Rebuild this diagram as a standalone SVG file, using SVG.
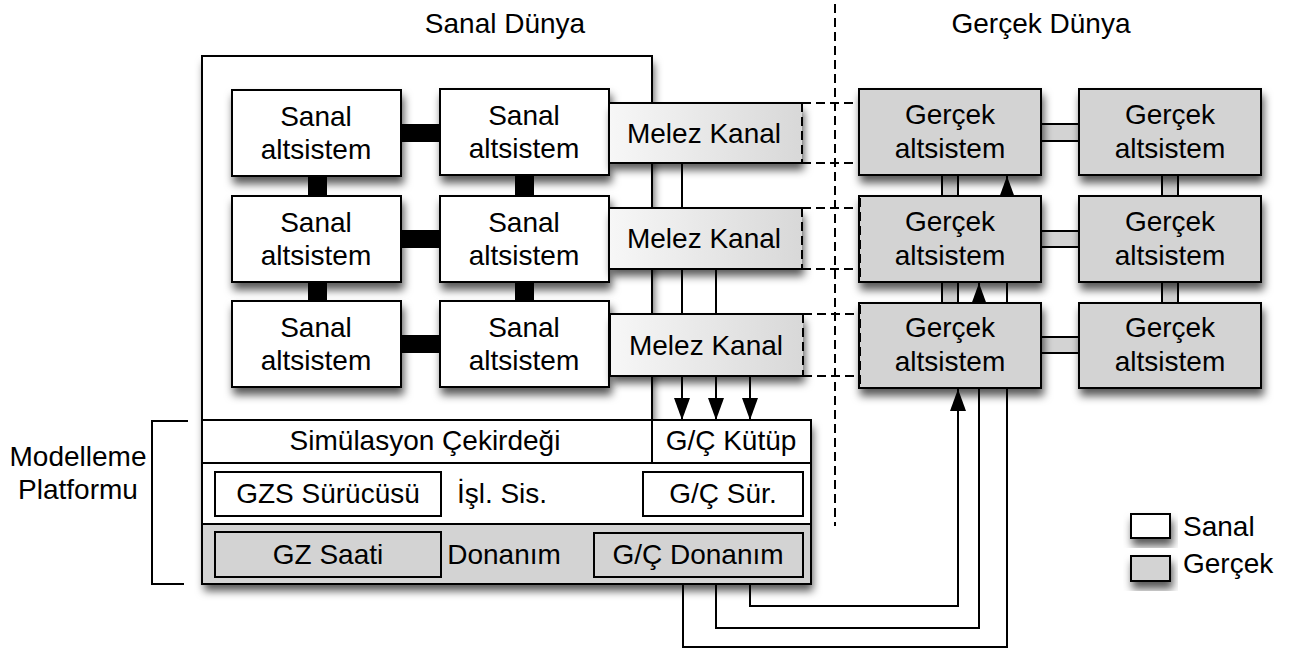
<svg xmlns="http://www.w3.org/2000/svg" width="1289" height="648" viewBox="0 0 1289 648">
<style>
text{font-family:"Liberation Sans",Arial,Helvetica,sans-serif;font-size:28px;fill:#000;text-anchor:middle}
.box{fill:#fff;stroke:#000;stroke-width:2}
.real{fill:#d3d3d3;stroke:#000;stroke-width:2}
.ln{fill:none;stroke:#000;stroke-width:2}
.dash{fill:none;stroke:#000;stroke-width:2;stroke-dasharray:9 5}
.thick{fill:#000}
.sh{filter:url(#shadow)}
</style>
<defs>
<filter id="shadow" x="-20%" y="-20%" width="140%" height="160%">
<feDropShadow dx="2" dy="7" stdDeviation="4.5" flood-color="#000" flood-opacity="0.65"/>
</filter>
<linearGradient id="mz" x1="0" y1="0" x2="1" y2="0">
<stop offset="0" stop-color="#f7f7f7"/>
<stop offset="1" stop-color="#d8d8d8"/>
</linearGradient>
<marker id="arr" viewBox="0 0 22 16" refX="22" refY="8" markerWidth="22" markerHeight="16" markerUnits="userSpaceOnUse" orient="auto">
<path d="M0,0 L22,8 L0,16 Z" fill="#000"/>
</marker>
</defs>

<text x="505" y="33">Sanal Dünya</text>
<text x="1041" y="33">Gerçek Dünya</text>
<line class="dash" x1="835" y1="4" x2="835" y2="526"/>

<g id="platform">
<path class="sh" d="M202,56 H652 V420 H811 V584 H202 Z" fill="#fff"/>
<rect x="202" y="524" width="609" height="60" fill="#d3d3d3"/>
<path class="ln" d="M202,56 H652 V420 H811 V584 H202 Z"/>
<path class="ln" d="M202,420 H652 M202,463 H811 M202,524 H811 M652,420 V463"/>
</g>

<g id="connectors">
<path class="ln" d="M682,163 V420" marker-end="url(#arr)"/>
<path class="ln" d="M716,269 V420" marker-end="url(#arr)"/>
<path class="ln" d="M750,376 V420" marker-end="url(#arr)"/>
<path class="ln" d="M683,584 V647 H1007 V176" marker-end="url(#arr)"/>
<path class="ln" d="M716,584 V628 H979 V283" marker-end="url(#arr)"/>
<path class="ln" d="M750,584 V606 H958 V389" marker-end="url(#arr)"/>
<path class="dash" d="M802,103 H859 M802,163 H859 M802,208 H859 M802,269 H859 M803,314 H859 M803,376 H859"/>
<rect class="thick" x="401" y="124" width="39" height="18"/>
<rect class="thick" x="401" y="230" width="39" height="18"/>
<rect class="thick" x="401" y="335" width="39" height="18"/>
<rect class="thick" x="308" y="175" width="19" height="22"/>
<rect class="thick" x="308" y="281" width="19" height="21"/>
<rect class="thick" x="515" y="175" width="19" height="22"/>
<rect class="thick" x="515" y="281" width="19" height="21"/>
<rect class="real" x="1041" y="124" width="38" height="17"/>
<rect class="real" x="1041" y="231" width="38" height="16"/>
<rect class="real" x="1041" y="337" width="38" height="16"/>
<rect class="real" x="942" y="175" width="16" height="21"/>
<rect class="real" x="942" y="282" width="16" height="21"/>
<rect class="real" x="1162" y="175" width="16" height="21"/>
<rect class="real" x="1162" y="282" width="16" height="21"/>
</g>

<g id="s11"><rect class="box sh" x="232" y="90" width="169" height="86"/><text x="316" y="126">Sanal</text><text x="316" y="159">altsistem</text></g>
<g id="s12"><rect class="box sh" x="440" y="89" width="169" height="86"/><text x="524" y="125">Sanal</text><text x="524" y="158">altsistem</text></g>
<g id="s21"><rect class="box sh" x="232" y="196" width="169" height="86"/><text x="316" y="232">Sanal</text><text x="316" y="265">altsistem</text></g>
<g id="s22"><rect class="box sh" x="440" y="196" width="169" height="86"/><text x="524" y="232">Sanal</text><text x="524" y="265">altsistem</text></g>
<g id="s31"><rect class="box sh" x="232" y="301" width="169" height="86"/><text x="316" y="337">Sanal</text><text x="316" y="370">altsistem</text></g>
<g id="s32"><rect class="box sh" x="440" y="301" width="169" height="86"/><text x="524" y="337">Sanal</text><text x="524" y="370">altsistem</text></g>

<g id="m1"><rect class="sh" x="609" y="103" width="193" height="60" fill="url(#mz)"/><path class="ln" d="M802,103 H609 V163 H802"/><line class="dash" x1="802" y1="103" x2="802" y2="163"/><text x="704" y="143">Melez Kanal</text></g>
<g id="m2"><rect class="sh" x="609" y="208" width="193" height="61" fill="url(#mz)"/><path class="ln" d="M802,208 H609 V269 H802"/><line class="dash" x1="802" y1="208" x2="802" y2="269"/><text x="704" y="248">Melez Kanal</text></g>
<g id="m3"><rect class="sh" x="610" y="314" width="193" height="62" fill="url(#mz)"/><path class="ln" d="M803,314 H610 V376 H803"/><line class="dash" x1="803" y1="314" x2="803" y2="376"/><text x="706" y="355">Melez Kanal</text></g>

<g id="g11"><rect class="real sh" x="859" y="89" width="182" height="86"/><text x="950" y="124">Gerçek</text><text x="950" y="158">altsistem</text></g>
<g id="g12"><rect class="real sh" x="1079" y="89" width="182" height="86"/><text x="1170" y="124">Gerçek</text><text x="1170" y="158">altsistem</text></g>
<g id="g21"><rect class="real sh" x="859" y="196" width="182" height="86"/><line class="dash" x1="860" y1="198" x2="860" y2="280" stroke-width="3"/><text x="950" y="231">Gerçek</text><text x="950" y="265">altsistem</text></g>
<g id="g22"><rect class="real sh" x="1079" y="196" width="182" height="86"/><text x="1170" y="231">Gerçek</text><text x="1170" y="265">altsistem</text></g>
<g id="g31"><rect class="real sh" x="859" y="303" width="182" height="85"/><line class="dash" x1="860" y1="305" x2="860" y2="386" stroke-width="3"/><text x="950" y="337">Gerçek</text><text x="950" y="371">altsistem</text></g>
<g id="g32"><rect class="real sh" x="1079" y="303" width="182" height="85"/><text x="1170" y="337">Gerçek</text><text x="1170" y="371">altsistem</text></g>

<g id="kernel"><text x="425" y="450">Simülasyon Çekirdeği</text></g>
<g id="iolib"><text x="731" y="450">G/Ç Kütüp</text></g>
<g id="gzs"><rect class="box" x="215" y="472" width="226" height="44"/><text x="328" y="503">GZS Sürücüsü</text></g>
<g id="os"><text x="502" y="503">İşl. Sis.</text></g>
<g id="iodrv"><rect class="box" x="643" y="472" width="160" height="44"/><text x="723" y="503">G/Ç Sür.</text></g>
<g id="clock"><rect class="real" x="215" y="532" width="226" height="45"/><text x="328" y="564">GZ Saati</text></g>
<g id="hw"><text x="504" y="564">Donanım</text></g>
<g id="iohw"><rect class="real" x="594" y="533" width="209" height="44"/><text x="698" y="564">G/Ç Donanım</text></g>

<g id="bracket"><path class="ln" d="M188,421 H152 V584 H184"/><text x="78" y="466">Modelleme</text><text x="78" y="499">Platformu</text></g>

<g id="legend">
<rect class="box sh" x="1131" y="514" width="39" height="24"/>
<rect class="real sh" x="1131" y="556" width="39" height="25"/>
<text x="1183" y="536" style="text-anchor:start">Sanal</text>
<text x="1183" y="573" style="text-anchor:start">Gerçek</text>
</g>
</svg>
